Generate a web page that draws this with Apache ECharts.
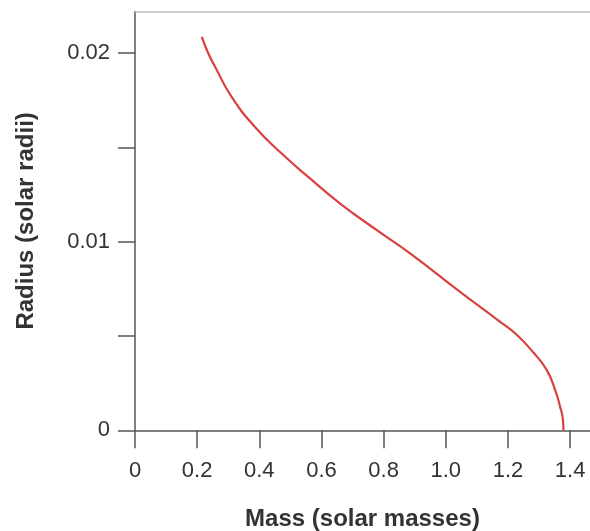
<!DOCTYPE html>
<head>
    <meta charset="utf-8">
    <title>ECharts</title>
</head>
<body style="margin:0">
<div id="main" style="width:590px;height:531px"></div>
<script src="https://cdn.jsdelivr.net/npm/echarts@6/dist/echarts.min.js"></script>
<script type="text/javascript">
    // white dwarf mass-radius relation
    var mass = [0.215, 0.236, 0.258, 0.311, 0.386, 0.472, 0.563, 0.660, 0.778, 0.885, 1.046, 1.175, 1.229, 1.282, 1.325, 1.352, 1.368, 1.3766, 1.3785];
    var radius = [0.02085, 0.01997, 0.01926, 0.01767, 0.01608, 0.01467, 0.01335, 0.01202, 0.01061, 0.00938, 0.00734, 0.00575, 0.00505, 0.00412, 0.00319, 0.00213, 0.00123, 0.0006, 0];
    var xTicks = [0, 0.2, 0.4, 0.6, 0.8, 1.0, 1.2, 1.4];
    var yTicks = [0, 0.005, 0.01, 0.015, 0.02];
    var yLabels = [0, 0.01, 0.02];

    var axisColor = '#555';
    var textColor = '#333';
    var font = 'Liberation Sans';

    var points = mass.map(function (m, i) { return [m, radius[i]]; });

    var myChart = echarts.init(document.getElementById('main'));
    myChart.setOption({
        animation: false,
        grid: {
            left: 135, top: 11.5, right: 0, bottom: 100.7,
            containLabel: false, outerBoundsMode: 'none'
        },
        xAxis: [{
            type: 'value',
            position: 'bottom',
            min: 0, max: 1.464,
            name: 'Mass (solar masses)',
            nameLocation: 'middle',
            nameGap: 77,
            nameTextStyle: { color: textColor, fontFamily: font, fontSize: 24, fontWeight: 'bold' },
            splitLine: { show: false },
            axisLine: { lineStyle: { color: axisColor, width: 1.5 } },
            axisTick: { customValues: xTicks, length: 18, lineStyle: { color: axisColor, width: 1.5 } },
            axisLabel: {
                customValues: xTicks,
                margin: 30,
                color: textColor, fontFamily: font, fontSize: 22,
                formatter: function (v) { return v === 0 ? '0' : v.toFixed(1); }
            }
        }, {
            type: 'value',
            position: 'top',
            min: 0, max: 1.464,
            splitLine: { show: false },
            axisLine: { show: true, lineStyle: { color: '#bbb', width: 1.5 } },
            axisTick: { show: false },
            axisLabel: { show: false }
        }],
        yAxis: {
            type: 'value',
            min: 0, max: 0.0222,
            name: 'Radius (solar radii)',
            nameLocation: 'middle',
            nameGap: 97,
            nameTextStyle: { color: textColor, fontFamily: font, fontSize: 24, fontWeight: 'bold' },
            splitLine: { show: false },
            axisLine: { show: true, lineStyle: { color: axisColor, width: 1.5 } },
            axisTick: { customValues: yTicks, length: 17, lineStyle: { color: axisColor, width: 1.5 } },
            axisLabel: {
                customValues: yLabels,
                margin: 25,
                color: textColor, fontFamily: font, fontSize: 22,
                formatter: function (v) { return v === 0 ? '0' : v.toFixed(2); }
            }
        },
        series: [{
            type: 'line',
            data: points,
            smooth: 0.5,
            showSymbol: false,
            lineStyle: { color: '#d8413f', width: 2.2 }
        }]
    });
</script>
</body>
